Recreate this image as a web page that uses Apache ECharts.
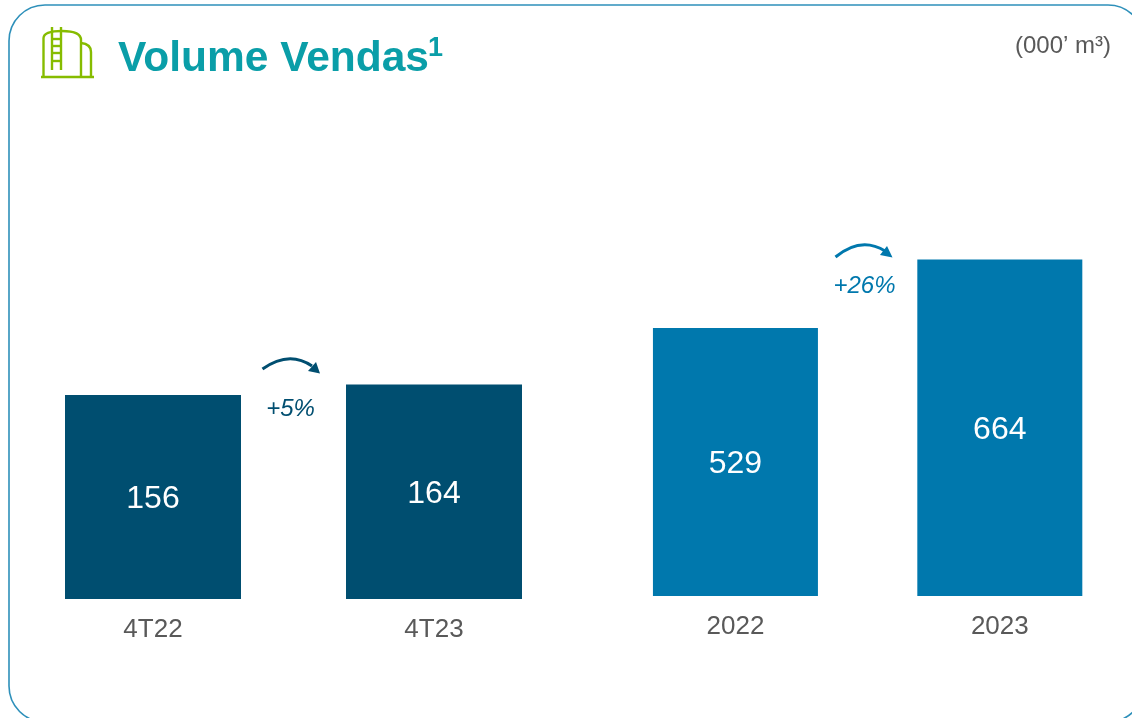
<!DOCTYPE html>
<html>
<head>
<meta charset="utf-8">
<style>html,body{margin:0;padding:0;background:#fff;overflow:hidden}#c{width:1132px;height:718px}</style>
<script src="https://cdn.jsdelivr.net/npm/echarts@6/dist/echarts.min.js"></script>
</head>
<body>
<div id="c"></div>
<script>
const quarterCategories = ['4T22', '4T23'];
const quarterValues = [156, 164];
const yearCategories = ['2022', '2023'];
const yearValues = [529, 664];
const titleText = 'Volume Vendas';
const titleSup = '1';
const unitText = '(000\u2019 m\u00b3)';
const quarterChange = '+5%';
const yearChange = '+26%';

const FONT = '"Liberation Sans", Arial, sans-serif';
const DARK = '#004E70', BLUE = '#0078AD', GREY = '#595959', TEAL = '#0A9EA8', GREEN = '#86BC00';

function xAxis(idx, data) {
  return { type: 'category', gridIndex: idx, data,
    axisLine: {show: false}, axisTick: {show: false}, splitLine: {show: false},
    axisLabel: {color: GREY, fontFamily: FONT, fontSize: 26, margin: 18} };
}
function yAxis(idx, max) {
  return { type: 'value', gridIndex: idx, min: 0, max, show: false, splitLine: {show: false} };
}
function bars(idx, data, color, width) {
  return { type: 'bar', xAxisIndex: idx, yAxisIndex: idx, data, barWidth: width,
    itemStyle: {color}, animation: false,
    label: {show: true, position: 'inside', offset: [0, 2], color: '#fff', fontFamily: FONT, fontSize: 32} };
}
function arrow(p, head, color) {
  return [
    {type: 'bezierCurve', shape: {x1: p[0], y1: p[1], cpx1: p[2], cpy1: p[3], x2: p[4], y2: p[5]},
      style: {fill: 'none', stroke: color, lineWidth: 3}},
    {type: 'polygon', shape: {points: head}, style: {fill: color}}
  ];
}
function icoLine(points) {
  return {type: 'polyline', shape: {points}, style: {fill: 'none', stroke: GREEN, lineWidth: 2.4}};
}
function icoCurve(x1, y1, cx, cy, x2, y2) {
  return {type: 'bezierCurve', shape: {x1, y1, cpx1: cx, cpy1: cy, x2, y2}, style: {fill: 'none', stroke: GREEN, lineWidth: 2.4}};
}
const chart = echarts.init(document.getElementById('c'), null, {renderer: 'canvas'});
chart.setOption({
  animation: false,
  backgroundColor: '#fff',
  grid: [
    {left: 12.5, width: 562, top: 76, height: 523},
    {left: 603.25, width: 529, top: 89.4, height: 506.6}
  ],
  xAxis: [xAxis(0, quarterCategories), xAxis(1, yearCategories)],
  yAxis: [yAxis(0, 400), yAxis(1, 1000)],
  series: [bars(0, quarterValues, DARK, 176), bars(1, yearValues, BLUE, 165)],
  graphic: [
    {type: 'rect', silent: true, z: -1, shape: {x: 9, y: 5, width: 1135, height: 717, r: 36},
      style: {fill: 'none', stroke: '#2E90BA', lineWidth: 1.6}},
    {type: 'text', x: 118, y: 59.5, style: {text: titleText, fill: TEAL, font: 'bold 42.5px ' + FONT, textVerticalAlign: 'middle'}},
    {type: 'text', x: 428, y: 49, style: {text: titleSup, fill: TEAL, font: 'bold 27px ' + FONT, textVerticalAlign: 'middle'}},
    {type: 'text', x: 1015, y: 46, style: {text: unitText, fill: GREY, font: '24px ' + FONT, textVerticalAlign: 'middle'}},
    {type: 'text', x: 290.5, y: 409, style: {text: quarterChange, fill: DARK, font: 'italic 24px ' + FONT, textAlign: 'center', textVerticalAlign: 'middle'}},
    {type: 'text', x: 864.5, y: 286, style: {text: yearChange, fill: BLUE, font: 'italic 24px ' + FONT, textAlign: 'center', textVerticalAlign: 'middle'}},
    ...arrow([262.5, 369, 289, 350, 312, 366], [[320,373.5],[316,362],[308,371]], DARK),
    ...arrow([835.5, 257, 861, 236, 885, 251], [[892.5,257.5],[887,246],[880,255]], BLUE),
    icoLine([[41,77],[94,77]]),
    icoLine([[43.5,77],[43.5,38]]),
    icoCurve(43.5, 38, 44, 31, 62, 31),
    icoCurve(62, 31, 81, 31, 81, 40),
    icoLine([[81,40],[81,77]]),
    icoCurve(81, 43, 91, 44, 91, 52),
    icoLine([[91,52],[91,77]]),
    icoLine([[52,27],[52,70]]),
    icoLine([[61,27],[61,70]]),
    icoLine([[52,39],[61,39]]),
    icoLine([[52,46],[61,46]]),
    icoLine([[52,53],[61,53]]),
    icoLine([[52,61],[61,61]])
  ]
});
</script>
</body>
</html>
